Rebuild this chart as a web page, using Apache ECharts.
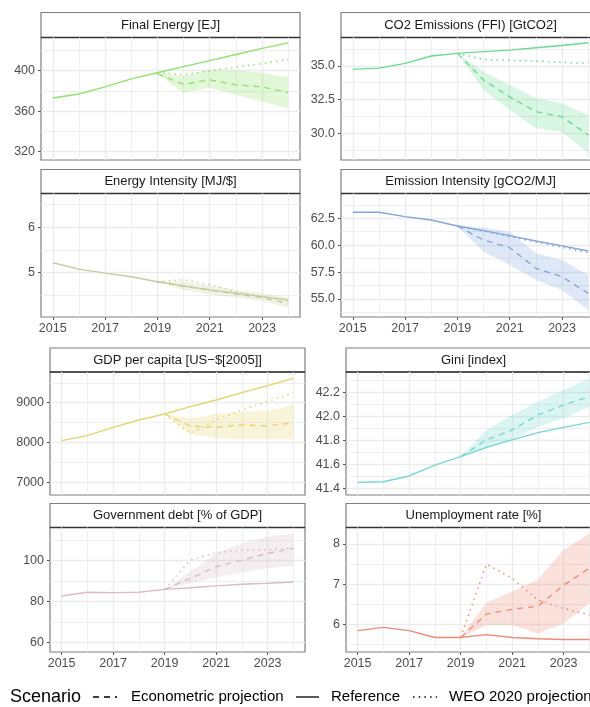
<!DOCTYPE html>
<html>
<head>
<meta charset="utf-8">
<script src="https://cdn.jsdelivr.net/npm/echarts@6/dist/echarts.min.js"></script>
<style>
  html, body { margin: 0; padding: 0; background: #fff; }
  #chart { width: 590px; height: 707px; }
</style>
</head>
<body>
<div id="chart"></div>
<script>
// ---- data ----
var years = [2015, 2016, 2017, 2018, 2019, 2020, 2021, 2022, 2023, 2024];
var projYears = [2019, 2020, 2021, 2022, 2023, 2024];
var yearTicks = [2015, 2017, 2019, 2021, 2023];
var yearMinor = [2016, 2018, 2020, 2022, 2024];

// Final Energy [EJ]
var feRef  = [373, 377, 384, 392, 398, 404, 410, 416, 422, 427.5];
var feEco  = [397, 386.5, 391, 386, 384, 378.5];
var feLow  = [397, 378, 383.5, 376, 369.5, 363];
var feHigh = [397, 395, 400.5, 400.5, 398, 393.5];
var feWeo  = [398, 396, 400, 403.5, 407, 411];
var feTicks = [320, 360, 400];
var feMinor = [340, 380, 420];

// CO2 Emissions (FFI) [GtCO2]
var co2Ref  = [34.73, 34.83, 35.18, 35.72, 35.92, 36.04, 36.16, 36.33, 36.5, 36.7];
var co2Eco  = [35.92, 33.94, 32.7, 31.6, 31.23, 29.87];
var co2Low  = [35.92, 33.2, 31.72, 30.37, 30.12, 28.52];
var co2High = [35.92, 34.56, 33.57, 32.59, 32.2, 31.35];
var co2Weo  = [35.92, 35.47, 35.4, 35.35, 35.25, 35.18];
var co2Ticks = [30, 32.5, 35];
var co2Minor = [28.75, 31.25, 33.75, 36.25];

// Energy Intensity [MJ/$]
var eiRef  = [5.22, 5.08, 4.99, 4.91, 4.80, 4.71, 4.62, 4.55, 4.47, 4.40];
var eiEco  = [4.80, 4.70, 4.62, 4.53, 4.45, 4.32];
var eiLow  = [4.80, 4.62, 4.52, 4.45, 4.38, 4.22];
var eiHigh = [4.80, 4.80, 4.72, 4.62, 4.55, 4.45];
var eiWeo  = [4.80, 4.84, 4.74, 4.58, 4.47, 4.38];
var eiTicks = [5, 6];
var eiMinor = [4.5, 5.5, 6.5];

// Emission Intensity [gCO2/MJ]
var emRef  = [63.06, 63.06, 62.65, 62.34, 61.78, 61.35, 60.88, 60.39, 59.93, 59.46];
var emEco  = [61.78, 60.48, 59.77, 57.85, 57.07, 55.53];
var emLow  = [61.78, 59.4, 58.16, 56.77, 55.84, 53.98];
var emHigh = [61.78, 61.63, 61.25, 59.25, 58.62, 57.23];
var emWeo  = [61.78, 61.3, 60.8, 60.3, 59.8, 59.3];
var emTicks = [55, 57.5, 60, 62.5];
var emMinor = [53.75, 56.25, 58.75, 61.25, 63.75];

// GDP per capita [US-$[2005]]
var gdpRef  = [8045, 8171, 8382, 8565, 8716, 8900, 9068, 9251, 9427, 9613];
var gdpEco  = [8716, 8415, 8382, 8440, 8415, 8497];
var gdpLow  = [8716, 8206, 8106, 8080, 8080, 8080];
var gdpHigh = [8716, 8608, 8716, 8774, 8791, 8942];
var gdpWeo  = [8716, 8231, 8565, 8817, 9025, 9251];
var gdpTicks = [7000, 8000, 9000];
var gdpMinor = [7500, 8500, 9500];

// Gini [index]
var giniRef  = [41.453, 41.458, 41.506, 41.597, 41.667, 41.745, 41.806, 41.867, 41.911, 41.953];
var giniEco  = [41.667, 41.806, 41.889, 42.014, 42.098, 42.167];
var giniLow  = [41.667, 41.737, 41.806, 41.917, 41.986, 42.083];
var giniHigh = [41.667, 41.889, 42.014, 42.125, 42.222, 42.32];
var giniTicks = [41.4, 41.6, 41.8, 42.0, 42.2];
var giniMinor = [41.5, 41.7, 41.9, 42.1, 42.3];

// Government debt [% of GDP]
var debtRef  = [82.8, 84.6, 84.4, 84.6, 86.0, 86.8, 87.7, 88.5, 89.0, 89.6];
var debtEco  = [86.0, 91.4, 97.1, 100.3, 103.6, 106];
var debtLow  = [86.0, 89, 91.9, 94.1, 96.3, 97.4];
var debtHigh = [86.0, 94.6, 103.6, 108.5, 111.7, 113.4];
var debtWeo  = [86.0, 100.3, 103.9, 105.2, 105.2, 106.3];
var debtTicks = [60, 80, 100];
var debtMinor = [70, 90, 110];

// Unemployment rate [%]
var unRef  = [5.85, 5.93, 5.85, 5.68, 5.68, 5.75, 5.68, 5.65, 5.63, 5.63];
var unEco  = [5.68, 6.26, 6.38, 6.46, 6.98, 7.40];
var unLow  = [5.68, 5.99, 5.99, 5.78, 6.03, 6.53];
var unHigh = [5.68, 6.54, 6.82, 7.12, 7.85, 8.26];
var unWeo  = [5.68, 7.50, 7.15, 6.61, 6.40, 6.24];
var unTicks = [6, 7, 8];
var unMinor = [5.5, 6.5, 7.5];

// ---- panel layout ----
var panels = [
  {title: 'Final Energy [EJ]', color: '#8FE26A', ref: feRef, eco: feEco, low: feLow, high: feHigh, weo: feWeo,
   ticks: feTicks, minor: feMinor, dec: 0, yMin: 311.8, yMax: 432.8,
   x: 41, w: 259, stripTop: 12.5, top: 37.5, bottom: 160, xLab: false},
  {title: 'CO2 Emissions (FFI) [GtCO2]', color: '#6BDA92', ref: co2Ref, eco: co2Eco, low: co2Low, high: co2High, weo: co2Weo,
   ticks: co2Ticks, minor: co2Minor, dec: 1, yMin: 28.03, yMax: 37.09,
   x: 341, w: 259, stripTop: 12.5, top: 37.5, bottom: 160, xLab: false},
  {title: 'Energy Intensity [MJ/$]', color: '#C4CC9C', ref: eiRef, eco: eiEco, low: eiLow, high: eiHigh, weo: eiWeo,
   ticks: eiTicks, minor: eiMinor, dec: 0, yMin: 4.022, yMax: 6.748,
   x: 41, w: 259, stripTop: 169.5, top: 193.5, bottom: 317, xLab: true},
  {title: 'Emission Intensity [gCO2/MJ]', color: '#82A6DC', ref: emRef, eco: emEco, low: emLow, high: emHigh, weo: emWeo,
   ticks: emTicks, minor: emMinor, dec: 1, yMin: 53.33, yMax: 64.80,
   x: 341, w: 259, stripTop: 169.5, top: 193.5, bottom: 317, xLab: true},
  {title: 'GDP per capita [US\u2212$[2005]]', color: '#E1D56C', ref: gdpRef, eco: gdpEco, low: gdpLow, high: gdpHigh, weo: gdpWeo,
   ticks: gdpTicks, minor: gdpMinor, dec: 0, yMin: 6681, yMax: 9771,
   x: 50, w: 255, stripTop: 348, top: 372, bottom: 495, xLab: false},
  {title: 'Gini [index]', color: '#74D8D1', ref: giniRef, eco: giniEco, low: giniLow, high: giniHigh, weo: null,
   ticks: giniTicks, minor: giniMinor, dec: 1, yMin: 41.3475, yMax: 42.372,
   x: 346, w: 255, stripTop: 348, top: 372, bottom: 495, xLab: false},
  {title: 'Government debt [% of GDP]', color: '#D9BCC6', ref: debtRef, eco: debtEco, low: debtLow, high: debtHigh, weo: debtWeo,
   ticks: debtTicks, minor: debtMinor, dec: 0, yMin: 55.46, yMax: 116.2,
   x: 50, w: 255, stripTop: 503.5, top: 527.5, bottom: 652, xLab: true},
  {title: 'Unemployment rate [%]', color: '#EE8B72', ref: unRef, eco: unEco, low: unLow, high: unHigh, weo: unWeo,
   ticks: unTicks, minor: unMinor, dec: 0, yMin: 5.32, yMax: 8.41,
   x: 346, w: 255, stripTop: 503.5, top: 527.5, bottom: 652, xLab: true}
];

var FONT = 'Liberation Sans, Arial, sans-serif';
var GRID_COL = '#EBEBEB';
var BORDER = '#7f7f7f';

function pairs(xs, ys) {
  return xs.map(function (x, i) { return [x, ys[i]]; });
}

function alpha(hex, a) {
  var n = parseInt(hex.slice(1), 16);
  return 'rgba(' + (n >> 16) + ',' + ((n >> 8) & 255) + ',' + (n & 255) + ',' + a + ')';
}

var grids = [], xAxes = [], yAxes = [], series = [], graphics = [];

panels.forEach(function (p, i) {
  grids.push({
    left: p.x, top: p.top, width: p.w, height: p.bottom - p.top,
    show: true, backgroundColor: '#fff', borderColor: BORDER, borderWidth: 1.2,
    containLabel: false, outerBoundsMode: 'none'
  });
  // major x axis
  xAxes.push({
    type: 'value', gridIndex: i, min: 2014.55, max: 2024.45,
    axisLine: {show: false},
    axisTick: {show: p.xLab, customValues: yearTicks, length: 3, lineStyle: {color: '#555', width: 1}},
    axisLabel: {show: p.xLab, customValues: yearTicks, margin: 5, color: '#4D4D4D', fontSize: 12.5, fontFamily: FONT,
                formatter: function (v) { return String(v); }},
    splitLine: {show: true, lineStyle: {color: GRID_COL, width: 1.3}}
  });
  // minor x axis (grid lines only)
  xAxes.push({
    type: 'value', gridIndex: i, min: 2014.55, max: 2024.45,
    axisLine: {show: false},
    axisTick: {show: false, customValues: yearMinor},
    axisLabel: {show: false, customValues: yearMinor},
    splitLine: {show: true, lineStyle: {color: GRID_COL, width: 0.8}}
  });
  var dec = p.dec;
  yAxes.push({
    type: 'value', gridIndex: i, min: p.yMin, max: p.yMax,
    axisLine: {show: false},
    axisTick: {show: true, customValues: p.ticks, length: 3, lineStyle: {color: '#555', width: 1}},
    axisLabel: {show: true, customValues: p.ticks, margin: 6, color: '#4D4D4D', fontSize: 12.5, fontFamily: FONT,
                formatter: function (v) { return v.toFixed(dec); }},
    splitLine: {show: true, lineStyle: {color: GRID_COL, width: 1.3}}
  });
  yAxes.push({
    type: 'value', gridIndex: i, min: p.yMin, max: p.yMax,
    axisLine: {show: false},
    axisTick: {show: false, customValues: p.minor},
    axisLabel: {show: false, customValues: p.minor},
    splitLine: {show: true, lineStyle: {color: GRID_COL, width: 0.8}}
  });

  var xi = 2 * i, yi = 2 * i;
  // uncertainty band of the econometric projection
  series.push({
    type: 'custom', xAxisIndex: xi, yAxisIndex: yi, silent: true, clip: true, z: 1,
    data: [[projYears[0], p.low[0]]],
    renderItem: function (params, api) {
      var pts = [];
      projYears.forEach(function (yr, k) { pts.push(api.coord([yr, p.high[k]])); });
      for (var k = projYears.length - 1; k >= 0; k--) pts.push(api.coord([projYears[k], p.low[k]]));
      return {type: 'polygon', shape: {points: pts}, style: {fill: alpha(p.color, 0.26)}};
    }
  });
  series.push({
    name: 'Reference', type: 'line', xAxisIndex: xi, yAxisIndex: yi, silent: true, z: 3,
    data: pairs(years, p.ref), symbol: 'none', lineStyle: {color: p.color, width: 1.35}
  });
  series.push({
    name: 'Econometric projection', type: 'line', xAxisIndex: xi, yAxisIndex: yi, silent: true, z: 3,
    data: pairs(projYears, p.eco), symbol: 'none', lineStyle: {color: p.color, width: 1.35, type: [6, 5]}
  });
  if (p.weo) {
    series.push({
      name: 'WEO 2020 projection', type: 'line', xAxisIndex: xi, yAxisIndex: yi, silent: true, z: 3,
      data: pairs(projYears, p.weo), symbol: 'none', lineStyle: {color: p.color, width: 1.5, type: [1.5, 4.2]}
    });
  }

  // facet strip
  graphics.push({
    type: 'rect', silent: true,
    shape: {x: p.x, y: p.stripTop, width: p.w, height: p.top - p.stripTop},
    style: {fill: '#fff', stroke: BORDER, lineWidth: 1.2}
  });
  graphics.push({
    type: 'line', silent: true,
    shape: {x1: p.x, y1: p.top, x2: p.x + p.w, y2: p.top},
    style: {stroke: '#333', lineWidth: 1.3}
  });
  graphics.push({
    type: 'text', silent: true,
    x: p.x + p.w / 2, y: (p.stripTop + p.top) / 2,
    style: {text: p.title, fill: '#1A1A1A', font: '13px ' + FONT, align: 'center', verticalAlign: 'middle'}
  });
});

// legend
var legY = 697;
graphics.push({type: 'text', silent: true, x: 10, y: legY,
  style: {text: 'Scenario', fill: '#000', font: '18px ' + FONT, align: 'left', verticalAlign: 'middle'}});
graphics.push({type: 'line', silent: true, shape: {x1: 93, y1: legY, x2: 117, y2: legY},
  style: {stroke: '#000', lineWidth: 1.3, lineDash: [6, 5]}});
graphics.push({type: 'text', silent: true, x: 131, y: legY,
  style: {text: 'Econometric projection', fill: '#000', font: '15px ' + FONT, align: 'left', verticalAlign: 'middle'}});
graphics.push({type: 'line', silent: true, shape: {x1: 296, y1: legY, x2: 319, y2: legY},
  style: {stroke: '#000', lineWidth: 1.3}});
graphics.push({type: 'text', silent: true, x: 331, y: legY,
  style: {text: 'Reference', fill: '#000', font: '15px ' + FONT, align: 'left', verticalAlign: 'middle'}});
graphics.push({type: 'line', silent: true, shape: {x1: 413, y1: legY, x2: 437, y2: legY},
  style: {stroke: '#000', lineWidth: 1.5, lineDash: [1.5, 4.2]}});
graphics.push({type: 'text', silent: true, x: 449, y: legY,
  style: {text: 'WEO 2020 projection', fill: '#000', font: '15px ' + FONT, align: 'left', verticalAlign: 'middle'}});

var chart = echarts.init(document.getElementById('chart'), null, {renderer: 'canvas'});
chart.setOption({
  animation: false,
  backgroundColor: '#fff',
  grid: grids,
  xAxis: xAxes,
  yAxis: yAxes,
  series: series,
  graphic: graphics
});
</script>
</body>
</html>
